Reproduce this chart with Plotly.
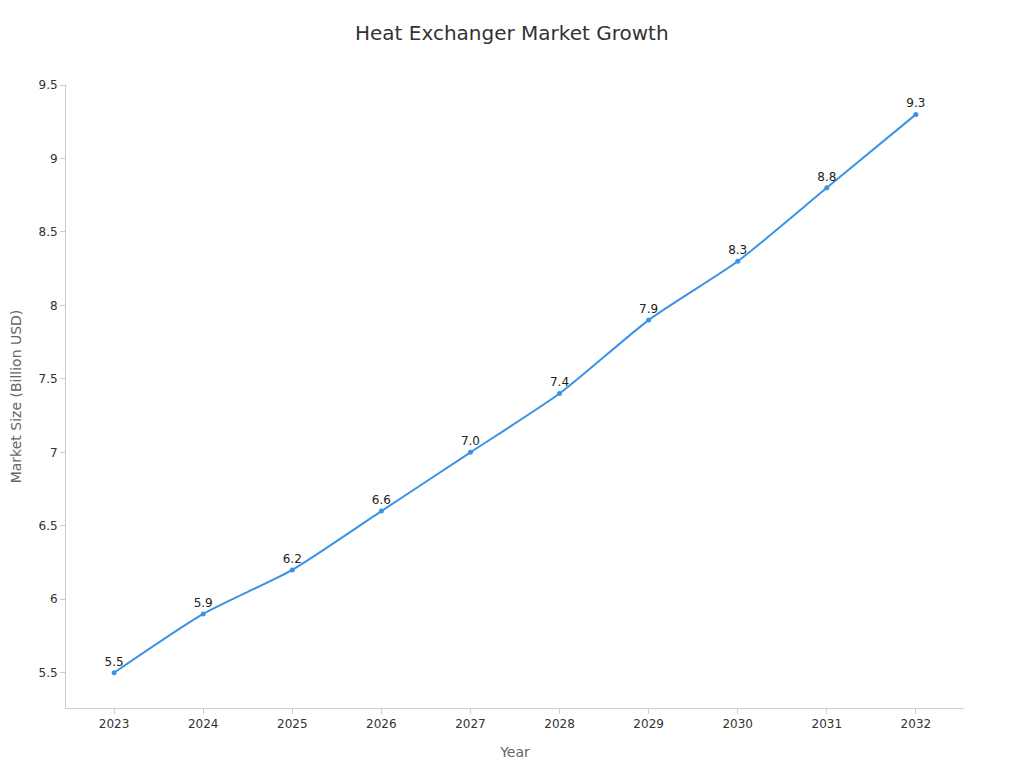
import plotly.graph_objects as go

years = ["2023", "2024", "2025", "2026", "2027", "2028", "2029", "2030", "2031", "2032"]
market_size = [5.5, 5.9, 6.2, 6.6, 7.0, 7.4, 7.9, 8.3, 8.8, 9.3]
labels = ["%.1f" % v for v in market_size]

fig = go.Figure()
fig.add_trace(go.Scatter(
    x=years, y=market_size, mode="lines+markers+text",
    text=labels, textposition="top center",
    textfont=dict(size=12, color="#222"),
    line=dict(color="#3a93e6", width=2, shape="spline", smoothing=0.6),
    marker=dict(size=5, color="#3a93e6"),
    showlegend=False,
))

fig.update_layout(
    width=1024, height=768,
    paper_bgcolor="white", plot_bgcolor="white",
    font=dict(family="DejaVu Sans", color="#333"),
    title=dict(text="Heat Exchanger Market Growth", x=0.492, y=0.977,
               font=dict(size=20, color="#333")),
    margin=dict(l=58, r=68, t=77, b=68),
)
fig.update_xaxes(
    type="category", range=[-0.54, 9.54], automargin=False,
    showline=True, linecolor="#ccc", ticks="outside", ticklen=5, tickcolor="#ccc",
    showgrid=False, tickfont=dict(size=12, color="#333"),
    title=dict(text="Year", font=dict(size=14, color="#666"), standoff=16),
)
fig.update_yaxes(
    range=[5.26, 9.5], tickvals=[5.5, 6, 6.5, 7, 7.5, 8, 8.5, 9, 9.5],
    ticktext=["5.5", "6", "6.5", "7", "7.5", "8", "8.5", "9", "9.5"],
    automargin=False,
    showline=True, linecolor="#ccc", ticks="outside", ticklen=5, tickcolor="#ccc",
    showgrid=False, zeroline=False, tickfont=dict(size=12, color="#333"),
    title=dict(text="Market Size (Billion USD)", font=dict(size=14, color="#666"), standoff=14),
)

fig.write_html("out.html")
